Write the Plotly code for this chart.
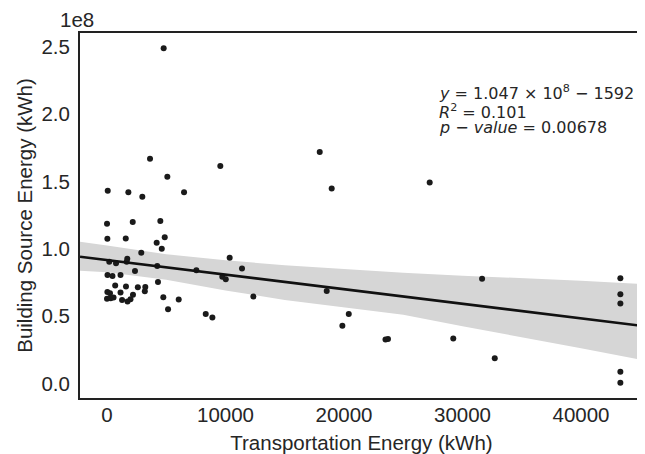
import plotly.graph_objects as go

# ---- data (x in kWh, y in units of 1e8 kWh) ----
transport_kwh = [
    4780, 3630, 9560, 5090, 60, 1800, 2980, 6500, 17950, 18960,
    0, 2170, 4500, 30, 1580, 4870, 4190, 4620, 2890, 10350,
    1710, 190, 760, 1660, 4240, 11390, 2360, 7540, 40, 460,
    1140, 9730, 10020, 4300, 690, 1600, 2600, 3230, 30, 250,
    1140, 2190, 3190, 0, 310, 550, 1270, 1730, 1980, 4750,
    6050, 12350, 18540, 5150, 8330, 8890, 20400, 19860, 27230, 31650,
    43320, 43320, 43320, 23500, 23710, 29220, 32720, 43320, 43320,
]
building_1e8 = [
    2.489, 1.669, 1.614, 1.535, 1.431, 1.419, 1.386, 1.419, 1.718, 1.447,
    1.186, 1.198, 1.206, 1.074, 1.077, 1.085, 1.045, 1.000, 0.970, 0.933,
    0.926, 0.903, 0.892, 0.903, 0.871, 0.854, 0.834, 0.840, 0.805, 0.797,
    0.805, 0.792, 0.773, 0.753, 0.727, 0.719, 0.713, 0.715, 0.678, 0.669,
    0.675, 0.659, 0.684, 0.629, 0.632, 0.637, 0.619, 0.608, 0.624, 0.639,
    0.623, 0.646, 0.686, 0.551, 0.515, 0.490, 0.515, 0.428, 1.493, 0.777,
    0.780, 0.661, 0.594, 0.325, 0.329, 0.334, 0.186, 0.086, 0.004,
]

# fitted line as drawn (units of 1e8)
fit_intercept = 0.916
fit_slope = -1.083e-5

# confidence band as drawn
band_x = [-2280, 0, 5000, 10000, 15000, 20000, 25000, 30000, 35000, 40000, 45230]
band_upper = [1.052, 1.025, 0.960, 0.915, 0.877, 0.848, 0.822, 0.800, 0.783, 0.763, 0.738]
band_lower = [0.837, 0.825, 0.770, 0.690, 0.620, 0.565, 0.510, 0.425, 0.340, 0.260, 0.173]

x_range = [-2280, 45230]
y_range = [-0.109, 2.603]
x_ticks = [0, 10000, 20000, 30000, 40000]
y_ticks = [0.0, 0.5, 1.0, 1.5, 2.0, 2.5]

stats_lines = [
    "<i>y</i> = 1.047 × 10<sup>8</sup> − 1592",
    "<i>R</i><sup>2</sup> = 0.101",
    "<i>p</i> − <i>value</i> = 0.00678",
]
stats_y = [2.164, 2.023, 1.904]

TXT = "#262626"
FONT = "Liberation Sans, Arial, sans-serif"

fig = go.Figure()

fig.add_trace(go.Scatter(
    x=band_x + band_x[::-1], y=band_upper + band_lower[::-1],
    fill="toself", fillcolor="rgb(214,214,214)", line=dict(width=0),
    mode="lines", hoverinfo="skip", showlegend=False))

fig.add_trace(go.Scatter(
    x=transport_kwh, y=building_1e8, mode="markers",
    marker=dict(size=6, color="#1a1a1a"), showlegend=False))

line_x = list(x_range)
line_y = [fit_intercept + fit_slope * v for v in line_x]
fig.add_trace(go.Scatter(
    x=line_x, y=line_y, mode="lines",
    line=dict(color="#111111", width=2.6), showlegend=False))

for txt, yy in zip(stats_lines, stats_y):
    fig.add_annotation(x=27850, y=yy, xref="x", yref="y", text=txt,
                       showarrow=False, xanchor="left", yanchor="middle",
                       font=dict(family="DejaVu Sans", size=16, color=TXT))

fig.add_annotation(x=0, y=1, xref="paper", yref="paper", text="1e8",
                   showarrow=False, xanchor="left", yanchor="bottom",
                   xshift=-22, yshift=0,
                   font=dict(family=FONT, size=20.5, color=TXT))

axis_common = dict(showgrid=False, zeroline=False, showline=True,
                   linecolor="#222222", linewidth=2, mirror=True,
                   automargin=False,
                   ticks="", tickfont=dict(family=FONT, size=20.5, color=TXT))

fig.update_xaxes(range=x_range, tickvals=x_ticks, tickformat="d",
                 ticklabelstandoff=-3,
                 title=dict(text="Transportation Energy (kWh)",
                            font=dict(family=FONT, size=20.5, color=TXT),
                            standoff=14),
                 **axis_common)
fig.update_yaxes(range=y_range, tickvals=y_ticks, tickformat=".1f",
                 ticklabelstandoff=4,
                 title=dict(text="Building Source Energy (kWh)",
                            font=dict(family=FONT, size=20.5, color=TXT),
                            standoff=3),
                 **axis_common)

# the page body adds an 8px offset, so the figure is 8px smaller
fig.update_layout(width=637, height=446,
                  margin=dict(l=72, r=2, t=25, b=56),
                  paper_bgcolor="white", plot_bgcolor="white")

fig.write_html("out.html")
